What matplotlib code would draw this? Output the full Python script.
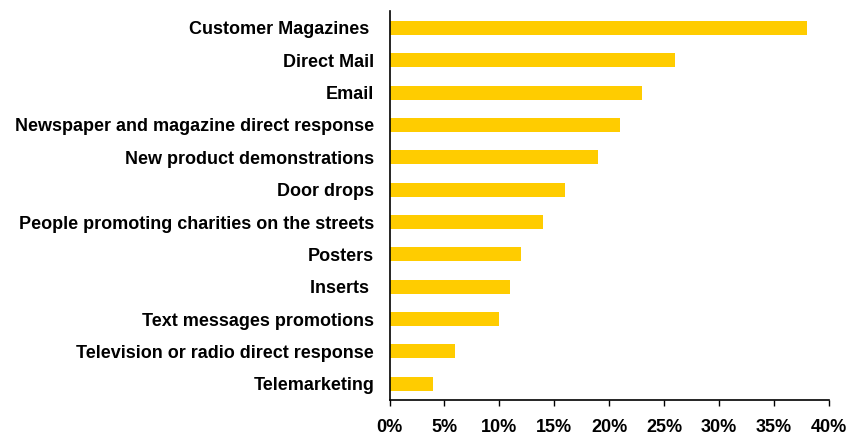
import matplotlib.pyplot as plt
from matplotlib.ticker import PercentFormatter

channels = [
    'Customer Magazines ',
    'Direct Mail',
    'Email',
    'Newspaper and magazine direct response',
    'New product demonstrations',
    'Door drops',
    'People promoting charities on the streets',
    'Posters',
    'Inserts ',
    'Text messages promotions',
    'Television or radio direct response',
    'Telemarketing',
]
shares = [38, 26, 23, 21, 19, 16, 14, 12, 11, 10, 6, 4]
x_ticks = [0, 5, 10, 15, 20, 25, 30, 35, 40]

plt.rcParams['font.family'] = ['Liberation Sans', 'DejaVu Sans']
plt.rcParams['font.weight'] = 'bold'

fig = plt.figure(figsize=(8.47, 4.37), dpi=100)
ax = fig.add_axes([389.5 / 847, 37 / 437, 439.5 / 847, 389 / 437])

pos = list(range(len(channels)))
ax.barh(pos, shares, height=0.43, color='#FFCC00')

ax.set_ylim(len(channels) - 0.5, -0.52)
ax.set_xlim(0, 40)
ax.set_yticks(pos)
ax.set_yticklabels(channels, fontsize=13, fontweight='bold')
ax.set_xticks(x_ticks)
ax.xaxis.set_major_formatter(PercentFormatter(decimals=0))
ax.tick_params(axis='x', labelsize=13, length=4, width=1, pad=10)
ax.tick_params(axis='y', length=0, pad=11)
for lbl in ax.get_xticklabels():
    lbl.set_fontweight('bold')

ax.spines['top'].set_visible(False)
ax.spines['right'].set_visible(False)
ax.spines['left'].set_linewidth(1.2)
ax.spines['bottom'].set_linewidth(1.2)

fig.savefig('out.png', dpi=100)
